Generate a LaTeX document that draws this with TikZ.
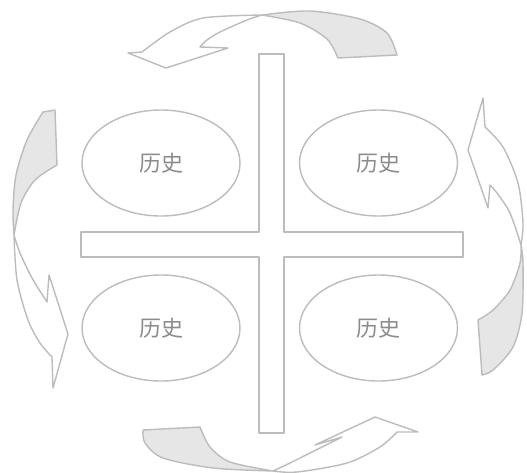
\documentclass[tikz,border=0pt]{standalone}
\usepackage{fontspec}
\newfontfamily\cjk{Noto Sans CJK SC}
\usetikzlibrary{shapes.geometric}
\definecolor{lineg}{RGB}{188,188,188}
\definecolor{fillg}{RGB}{230,230,230}
\definecolor{textg}{RGB}{140,140,140}
\begin{document}
\begin{tikzpicture}[x=1pt,y=-1pt,
  outl/.style={draw=lineg,line width=1.4pt,line join=round},
  shade/.style={outl,fill=fillg},
  oval/.style={ellipse,draw=lineg,line width=1.4pt,minimum width=158pt,minimum height=106pt,inner sep=0pt,
    font=\cjk\fontsize{22}{24}\selectfont,text=textg}]
\useasboundingbox (0,0) rectangle (527,472);
\fill[white] (0,0) rectangle (527,472);
% cross
\draw[outl] (259,54) -- (284,54) -- (284,232) -- (463,232) -- (463,257) -- (284,257) -- (284,433)
  -- (259,433) -- (259,257) -- (81,257) -- (81,232) -- (259,232) -- cycle;
% ovals
\node[oval] (tl) at (161,163) {历史};
\node[oval] (tr) at (378.5,163) {历史};
\node[oval] (bl) at (161,328) {历史};
\node[oval] (br) at (378.5,328) {历史};
% top arrow
\draw[shade] plot[smooth] coordinates {(262,15) (310,11) (360,19) (387,33) (397,55)} -- (338,58)
  -- plot[smooth] coordinates {(338,58) (327,39) (300,23) (262,15)} -- cycle;
\draw[outl] plot[smooth] coordinates {(262,15) (247,20) (220,32) (207,40) (200,47)} -- (228,48) -- (166,68)
  -- (128,53) -- (142,52) -- plot[smooth] coordinates {(142,52) (170,32) (203,18) (262,15)};
% left arrow
\draw[shade] (43,112) -- (55,110) -- (57,165)
  -- plot[smooth] coordinates {(57,165) (35,180) (21,203) (14,235)}
  -- plot[smooth] coordinates {(14,235) (13,210) (16,175) (27,140) (43,112)} -- cycle;
\draw[outl] plot[smooth] coordinates {(14,235) (17,280) (28,320) (40,343) (52,357)} -- (53,388) -- (68,334)
  -- (49,275) -- (47,302) -- plot[smooth] coordinates {(47,302) (32,278) (20,253) (14,235)};
% right arrow
\draw[outl] (483,98) -- (468,150) -- (488,208) -- (490,185)
  -- plot[smooth] coordinates {(490,185) (497,193) (510,213) (521,245)}
  -- plot[smooth] coordinates {(521,245) (523,223) (518,183) (503,147) (485,127)} -- cycle;
\draw[shade] plot[smooth] coordinates {(521,245) (523,263) (522,313) (513,347) (493,370) (482,375)} -- (478,320)
  -- plot[smooth] coordinates {(478,320) (493,310) (510,290) (520,263) (521,245)} -- cycle;
% bottom arrow
\draw[shade] (143,430) -- (200,427) -- plot[smooth] coordinates {(200,427) (210,447) (230,462) (273,471)}
  -- plot[smooth] coordinates {(273,471) (213,468) (163,458) (145,443) (143,430)} -- cycle;
\draw[outl] plot[smooth] coordinates {(273,471) (297,472) (347,463) (380,447) (397,432)} -- (418,432) -- (375,417)
  -- (315,445) -- (342,437) -- plot[smooth] coordinates {(342,437) (330,443) (310,453) (290,463) (273,471)};
\end{tikzpicture}
\end{document}
